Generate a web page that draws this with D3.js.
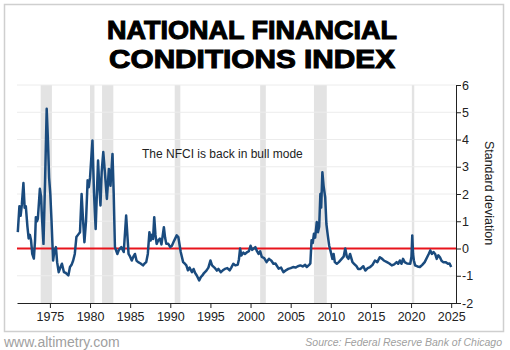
<!DOCTYPE html>
<html>
<head>
<meta charset="utf-8">
<script src="https://cdn.jsdelivr.net/npm/d3@7"></script>
<style>
  body { margin: 0; background: #fff; }
  svg { display: block; font-family: "Liberation Sans", Arial, sans-serif; }
</style>
</head>
<body>
<div id="chart"></div>
<script>
// NFCI readings (decimal year, standard deviations)
const years = [
  1971.0, 1971.2, 1971.35, 1971.5, 1971.7, 1971.85, 1972.0, 1972.2, 1972.35, 1972.5, 1972.65, 1972.8,
  1973.0, 1973.15, 1973.25, 1973.4, 1973.5, 1973.75, 1973.9, 1974.0, 1974.2, 1974.4, 1974.6, 1974.75,
  1974.9, 1975.05, 1975.2, 1975.4, 1975.55, 1975.75, 1975.9, 1976.1, 1976.3, 1976.5, 1976.75, 1977.0,
  1977.3, 1977.5, 1977.7, 1977.9, 1978.1, 1978.3, 1978.5, 1978.75, 1978.95, 1979.1, 1979.3, 1979.5,
  1979.7, 1979.85, 1980.0, 1980.3, 1980.5, 1980.7, 1980.85, 1981.0, 1981.15, 1981.3, 1981.45, 1981.65,
  1981.85, 1982.1, 1982.35, 1982.55, 1982.8, 1982.95, 1983.1, 1983.4, 1983.6, 1983.9, 1984.2, 1984.5,
  1984.65, 1984.8, 1985.0, 1985.2, 1985.4, 1985.6, 1985.8, 1986.0, 1986.3, 1986.6, 1986.8, 1987.0,
  1987.2, 1987.4, 1987.55, 1987.7, 1987.85, 1988.0, 1988.15, 1988.3, 1988.5, 1988.7, 1988.9, 1989.2,
  1989.35, 1989.5, 1989.75, 1990.0, 1990.2, 1990.5, 1990.8, 1991.0, 1991.3, 1991.6, 1991.8, 1992.0,
  1992.2, 1992.4, 1992.7, 1992.9, 1993.1, 1993.3, 1993.6, 1993.8, 1994.0, 1994.2, 1994.5, 1994.75,
  1995.0, 1995.2, 1995.5, 1995.8, 1996.0, 1996.3, 1996.55, 1996.8, 1997.1, 1997.4, 1997.6, 1997.85,
  1998.1, 1998.4, 1998.55, 1998.7, 1998.85, 1999.1, 1999.3, 1999.6, 1999.8, 2000.0, 2000.2, 2000.4,
  2000.6, 2000.8, 2001.0, 2001.2, 2001.4, 2001.7, 2002.0, 2002.3, 2002.6, 2002.85, 2003.1, 2003.5,
  2003.8, 2004.1, 2004.4, 2004.7, 2005.0, 2005.3, 2005.6, 2005.9, 2006.2, 2006.5, 2006.8, 2007.0,
  2007.3, 2007.45, 2007.6, 2007.75, 2007.9, 2008.05, 2008.25, 2008.4, 2008.55, 2008.7, 2008.8, 2008.95,
  2009.1, 2009.3, 2009.45, 2009.6, 2009.8, 2009.95, 2010.2, 2010.35, 2010.5, 2010.75, 2011.0, 2011.3,
  2011.6, 2011.8, 2012.0, 2012.2, 2012.4, 2012.7, 2012.9, 2013.2, 2013.4, 2013.7, 2014.05, 2014.3,
  2014.6, 2014.9, 2015.2, 2015.5, 2015.8, 2016.1, 2016.4, 2016.6, 2017.0, 2017.3, 2017.6, 2017.9,
  2018.2, 2018.4, 2018.6, 2018.8, 2019.0, 2019.2, 2019.5, 2019.9, 2020.05, 2020.15, 2020.25, 2020.35,
  2020.5, 2020.8, 2021.1, 2021.4, 2021.7, 2022.0, 2022.2, 2022.4, 2022.6, 2022.8, 2023.0, 2023.2,
  2023.4, 2023.6, 2023.8, 2024.0, 2024.3, 2024.6, 2024.8, 2025.0
];
const nfci = [
  0.6, 1.55, 1.2, 1.6, 2.4, 1.5, 1.55, 0.8, 0.37, 0.5, 0.3, -0.2,
  -0.37, 0.3, 1.15, 1.0, 1.1, 2.19, 1.9, 1.2, 0.17, 2.5, 5.13, 4.0,
  2.6, 2.0, 1.03, -0.44, -0.1, 0.05, -0.5, -0.87, -0.7, -0.56, -0.87, -0.9,
  -0.99, -0.68, -0.6, -0.44, -0.2, 0.42, 0.5, 0.6, 2.0, 1.2, 0.23, 1.0,
  2.5, 2.25, 2.6, 3.96, 2.0, 0.72, 2.0, 3.23, 2.3, 1.58, 2.8, 3.54,
  2.8, 1.82, 2.92, 2.3, 3.47, 2.0, 0.05, -0.2, -0.05, 0.05, -0.13, 1.21,
  0.5, -0.2, -0.3, -0.44, -0.3, -0.2, -0.45, -0.5, -0.55, -0.62, -0.55, -0.5,
  -0.2, 0.6, 0.29, 0.5, 0.35, 1.15, 0.5, 0.17, 0.3, 0.36, 0.15, 0.78,
  0.4, 0.17, 0.17, 0.05, 0.1, 0.3, 0.48, 0.42, -0.13, -0.5, -0.55, -0.62,
  -0.8, -0.7, -0.87, -0.75, -0.9, -0.99, -1.17, -1.05, -0.99, -0.9, -0.81, -0.7,
  -0.44, -0.62, -0.7, -0.81, -0.75, -0.87, -0.8, -0.75, -0.72, -0.8, -0.7, -0.56,
  -0.62, -0.6, -0.4, 0.0, -0.26, -0.15, -0.2, -0.13, -0.1, 0.1, -0.05, 0.0,
  0.05, -0.1, -0.2, -0.1, -0.31, -0.35, -0.5, -0.38, -0.45, -0.56, -0.55, -0.74,
  -0.7, -0.87, -0.8, -0.75, -0.72, -0.68, -0.7, -0.65, -0.62, -0.66, -0.6, -0.68,
  -0.6, -0.55, 0.3, 0.2, 0.54, 0.4, 0.97, 0.6, 0.8, 2.0, 1.5, 2.8,
  2.3, 1.88, 0.9, 0.54, 0.1, -0.07, -0.38, -0.2, -0.5, -0.56, -0.5, -0.4,
  -0.3, 0.0, -0.3, -0.38, -0.2, -0.5, -0.56, -0.65, -0.75, -0.75, -0.65, -0.81,
  -0.72, -0.68, -0.6, -0.44, -0.5, -0.32, -0.38, -0.44, -0.5, -0.55, -0.62, -0.58,
  -0.5, -0.56, -0.44, -0.56, -0.38, -0.5, -0.55, -0.56, -0.3, 0.48, -0.2, -0.44,
  -0.62, -0.66, -0.68, -0.6, -0.5, -0.32, -0.2, -0.07, -0.2, -0.13, -0.2, -0.38,
  -0.25, -0.32, -0.45, -0.5, -0.5, -0.56, -0.55, -0.68
];

// recession shading (start, end)
const recStart = [1973.85, 1980.0, 1981.5, 1990.55, 2001.2, 2007.9, 2020.1];
const recEnd   = [1975.25, 1980.55, 1982.9, 1991.25, 2001.9, 2009.5, 2020.4];

const xTicks = [1975, 1980, 1985, 1990, 1995, 2000, 2005, 2010, 2015, 2020, 2025];
const yTicks = [-2, -1, 0, 1, 2, 3, 4, 5, 6];

const width = 510, height = 350;
const plotL = 17, plotR = 456, plotT = 85, plotB = 303;

const svg = d3.select("#chart").append("svg")
    .attr("width", width)
    .attr("height", height);

// frame
svg.append("rect")
    .attr("x", 4.5).attr("y", 4.5)
    .attr("width", 499).attr("height", 327)
    .attr("fill", "#fff")
    .attr("stroke", "#cfcfcf")
    .attr("stroke-width", 1.5);

// title
const titleLines = ["NATIONAL FINANCIAL", "CONDITIONS INDEX"];
svg.selectAll("text.title")
    .data(titleLines)
    .enter()
    .append("text")
    .attr("class", "title")
    .attr("x", 252)
    .attr("y", (d, i) => 39 + i * 29)
    .attr("text-anchor", "middle")
    .attr("font-size", 25)
    .attr("font-weight", "bold")
    .attr("fill", "#000")
    .attr("stroke", "#000")
    .attr("stroke-width", 1)
    .attr("textLength", (d, i) => i === 0 ? 290 : 286)
    .attr("lengthAdjust", "spacingAndGlyphs")
    .text(d => d);

const x = d3.scaleLinear().domain([1970.9, 2025.6]).range([plotL, plotR]);
const y = d3.scaleLinear().domain([-2, 6]).range([plotB, plotT]);

// recessions
svg.selectAll("rect.rec")
    .data(recStart)
    .enter()
    .append("rect")
    .attr("class", "rec")
    .attr("x", d => x(d))
    .attr("y", plotT)
    .attr("width", (d, i) => x(recEnd[i]) - x(d))
    .attr("height", plotB - plotT)
    .attr("fill", "#e3e3e3");

// grid
svg.selectAll("line.grid")
    .data(yTicks.filter(d => d > -2))
    .enter()
    .append("line")
    .attr("class", "grid")
    .attr("x1", plotL).attr("x2", plotR)
    .attr("y1", d => y(d)).attr("y2", d => y(d))
    .attr("stroke", "#ececec")
    .attr("stroke-width", 1);

// zero line
svg.append("line")
    .attr("x1", plotL).attr("x2", plotR)
    .attr("y1", y(0)).attr("y2", y(0))
    .attr("stroke", "#e8141c")
    .attr("stroke-width", 2);

// series
const data = years.map((t, i) => ({ t: t, v: nfci[i] }));
const line = d3.line().x(d => x(d.t)).y(d => y(d.v));
svg.append("path")
    .datum(data)
    .attr("d", line)
    .attr("fill", "none")
    .attr("stroke", "#1a4b7e")
    .attr("stroke-width", 2.5)
    .attr("stroke-linejoin", "round");

// axes
const xAxis = svg.append("g")
    .attr("transform", `translate(0,${plotB})`)
    .call(d3.axisBottom(x).tickValues(xTicks).tickSize(5).tickSizeOuter(0).tickFormat(d => String(d)));
xAxis.selectAll("text").attr("font-size", 12.5).attr("fill", "#222").attr("dy", "0.78em");

const yAxis = svg.append("g")
    .attr("transform", `translate(${plotR},0)`)
    .call(d3.axisRight(y).tickValues(yTicks).tickSize(5).tickSizeOuter(0).tickFormat(d => String(d)));
yAxis.selectAll("text").attr("font-size", 12.5).attr("fill", "#222").attr("x", 6);
svg.selectAll(".domain, .tick line").attr("stroke", "#222");

svg.append("text")
    .attr("transform", "translate(485,193) rotate(90)")
    .attr("text-anchor", "middle")
    .attr("font-size", 12.5)
    .attr("fill", "#222")
    .text("Standard deviation");

// annotation
svg.append("text")
    .attr("x", 142).attr("y", 158)
    .attr("font-size", 12)
    .attr("fill", "#222")
    .text("The NFCI is back in bull mode");

// footer
svg.append("text")
    .attr("x", 4).attr("y", 347)
    .attr("font-size", 14)
    .attr("fill", "#a0a0a0")
    .text("www.altimetry.com");

svg.append("text")
    .attr("x", 502).attr("y", 346)
    .attr("text-anchor", "end")
    .attr("font-size", 10.5)
    .attr("font-style", "italic")
    .attr("fill", "#a0a0a0")
    .text("Source: Federal Reserve Bank of Chicago");
</script>
</body>
</html>
